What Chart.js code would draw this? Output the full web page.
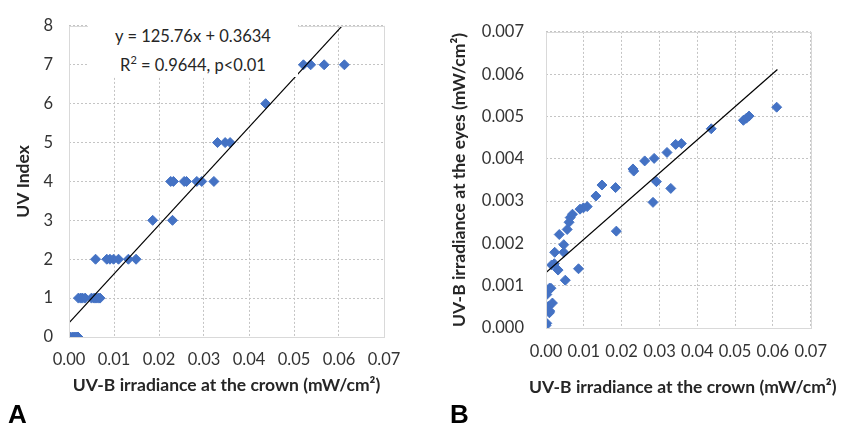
<!DOCTYPE html>
<html>
<head>
<meta charset="utf-8">
<script src="https://cdn.jsdelivr.net/npm/chart.js@4"></script>
<style>
  body { margin: 0; background: #fff; width: 841px; height: 426px; position: relative; overflow: hidden; font-family: Lato, "Open Sans", sans-serif; }
  .wrap { position: absolute; top: 0; height: 426px; }
  #wrapA { left: 0; width: 420px; }
  #wrapB { left: 420px; width: 421px; }
  .eq { position: absolute; left: 88px; width: 210px; text-align: center; font-size: 16.5px; color: #262626; line-height: 23px; top: 25px; background: #fff; }
  .xtitle { position: absolute; font: bold 17.5px Lato, sans-serif; color: #262626; white-space: nowrap; }
  .panel { position: absolute; font: bold 26px "Liberation Sans", Arial, sans-serif; color: #000; top: 399px; }
</style>
</head>
<body>
<div class="wrap" id="wrapA"><canvas id="chartA" width="420" height="426"></canvas></div>
<div class="wrap" id="wrapB"><canvas id="chartB" width="421" height="426"></canvas></div>
<div class="eq">y = 125.76x + 0.3634<br>R<sup style="font-size:11px">2</sup> = 0.9644, p&lt;0.01</div>
<div class="xtitle" id="titleB" style="left:529px; top:376px"></div>
<div class="panel" style="left:8px">A</div>
<div class="panel" style="left:450px">B</div>
<script>
// Panel A: UV-B at the crown vs UV Index
const aCrown = [0.0003, 0.0008, 0.0012, 0.0016, 0.0020,
  0.0021, 0.0026, 0.0030, 0.0036, 0.0050, 0.0056, 0.0060, 0.0065, 0.0069,
  0.0059, 0.0084, 0.0091, 0.0099, 0.0110, 0.0132, 0.0149,
  0.0186, 0.0230,
  0.0226, 0.0232, 0.0256, 0.0261, 0.0284, 0.0295, 0.0322,
  0.0330, 0.0347, 0.0358,
  0.0437,
  0.0521, 0.0537, 0.0567, 0.0612];
const aUvIndex = [0, 0, 0, 0, 0,
  1, 1, 1, 1, 1, 1, 1, 1, 1,
  2, 2, 2, 2, 2, 2, 2,
  3, 3,
  4, 4, 4, 4, 4, 4, 4,
  5, 5, 5,
  6,
  7, 7, 7, 7];
const trendAX = [0, 0.0607];
const trendAY = [0.3634, 8.0];

// Panel B: UV-B at the crown vs UV-B at the eyes
const bCrown = [0.0000, 0.0002, 0.0002, 0.0009, 0.0013, 0.0006, 0.0010, 0.0009, 0.0017,
  0.0015, 0.0022, 0.0023, 0.0032, 0.0035, 0.0047, 0.0047, 0.0051, 0.0056, 0.0061,
  0.0064, 0.0070, 0.0086, 0.0090, 0.0099, 0.0109, 0.0132, 0.0148, 0.0184, 0.0186,
  0.0230, 0.0232, 0.0261, 0.0283, 0.0286, 0.0292, 0.0320, 0.0330, 0.0343, 0.0358,
  0.0437, 0.0522, 0.0530, 0.0537, 0.0610];
const bEyes = [0.00006, 0.00011, 0.00079, 0.00094, 0.00094, 0.00051, 0.00040, 0.00036, 0.00059,
  0.00149, 0.00152, 0.00179, 0.00137, 0.00221, 0.00197, 0.00179, 0.00113, 0.00233, 0.00250,
  0.00261, 0.00269, 0.00140, 0.00281, 0.00284, 0.00287, 0.00312, 0.00338, 0.00332, 0.00229,
  0.00376, 0.00371, 0.00395, 0.00297, 0.00401, 0.00346, 0.00415, 0.00330, 0.00434, 0.00436,
  0.00471, 0.00491, 0.00496, 0.00501, 0.00522];
const trendBX = [0, 0.0612];
const trendBY = [0.00131, 0.00611];

const xTicks = [0, 0.01, 0.02, 0.03, 0.04, 0.05, 0.06, 0.07];
const xTitle = "UV-B irradiance at the crown (mW/cm\u00B2)";

const BLUE = "#4472C4";
const GRID = "#c4c4c4";
const TICK_FONT = { family: "Lato", size: 16.5 };
const TITLE_FONT = { family: "Lato", size: 17.5, weight: "bold" };

const pts = (xs, ys) => xs.map((x, i) => ({ x, y: ys[i] }));

// light solid frame round the plot area
const frame = {
  id: "frame",
  afterDatasetsDraw(chart) {
    const { ctx, chartArea: a } = chart;
    ctx.save();
    ctx.strokeStyle = "#d9d9d9";
    ctx.lineWidth = 1;
    ctx.strokeRect(Math.round(a.left) + 0.5, Math.round(a.top) + 0.5,
      Math.round(a.right - a.left), Math.round(a.bottom - a.top));
    ctx.restore();
  }
};

function makeChart(id, cfg) {
  const yTicks = cfg.yTicks;
  return new Chart(document.getElementById(id), {
    type: "scatter",
    data: {
      datasets: [
        {
          data: pts(cfg.xs, cfg.ys),
          backgroundColor: BLUE,
          borderColor: BLUE,
          pointStyle: "rectRot",
          pointRadius: 5,
          pointHoverRadius: 5,
          order: 2
        },
        {
          data: pts(cfg.tx, cfg.ty),
          showLine: true,
          borderColor: "#000",
          borderWidth: 1.2,
          pointRadius: 0,
          order: 1
        }
      ]
    },
    options: {
      responsive: false,
      animation: false,
      layout: { padding: cfg.pad },
      plugins: { legend: { display: false }, tooltip: { enabled: false } },
      scales: {
        x: {
          type: "linear",
          min: 0, max: 0.07,
          afterBuildTicks: s => { s.ticks = xTicks.map(v => ({ value: v })); },
          afterFit: s => { s.height = cfg.xH; },
          ticks: {
            autoSkip: false, maxRotation: 0, padding: cfg.xPad,
            color: "#333", font: TICK_FONT,
            callback: v => v.toFixed(2)
          },
          grid: { color: GRID, drawTicks: false },
          border: { display: false, dash: [2, 2] },
          title: { display: cfg.xTitleOn, text: xTitle, color: "#262626", font: TITLE_FONT, padding: { top: 0, bottom: 2 } }
        },
        y: {
          min: 0, max: yTicks[yTicks.length - 1],
          afterBuildTicks: s => { s.ticks = yTicks.map(v => ({ value: v })); },
          afterFit: s => { s.width = cfg.yW; },
          ticks: {
            padding: cfg.yPad, color: "#333", font: TICK_FONT,
            callback: v => v.toFixed(cfg.yDec)
          },
          grid: { color: GRID, drawTicks: false },
          border: { display: false, dash: [2, 2] },
          title: { display: true, text: cfg.yTitle, color: "#262626", font: TITLE_FONT, padding: { top: 0, bottom: 0 } }
        }
      }
    },
    plugins: [frame]
  });
}

makeChart("chartA", {
  xs: aCrown, ys: aUvIndex, tx: trendAX, ty: trendAY,
  yTicks: [0, 1, 2, 3, 4, 5, 6, 7, 8], yDec: 0,
  yTitle: "UV Index", xTitleOn: true,
  pad: { left: 13, right: 36, top: 16, bottom: 28 },
  yW: 56, xH: 61, xPad: 13, yPad: 16
});

// B's axis title is wider than its plot, so it is set as page text
document.getElementById("titleB").textContent = xTitle;

makeChart("chartB", {
  xs: bCrown, ys: bEyes, tx: trendBX, ty: trendBY,
  yTicks: [0, 0.001, 0.002, 0.003, 0.004, 0.005, 0.006, 0.007], yDec: 3,
  yTitle: "UV-B irradiance at the eyes (mW/cm\u00B2)", xTitleOn: false,
  pad: { left: 29, right: 27, top: 17, bottom: 25 },
  yW: 97, xH: 73, xPad: 14, yPad: 22
});
</script>
</body>
</html>
